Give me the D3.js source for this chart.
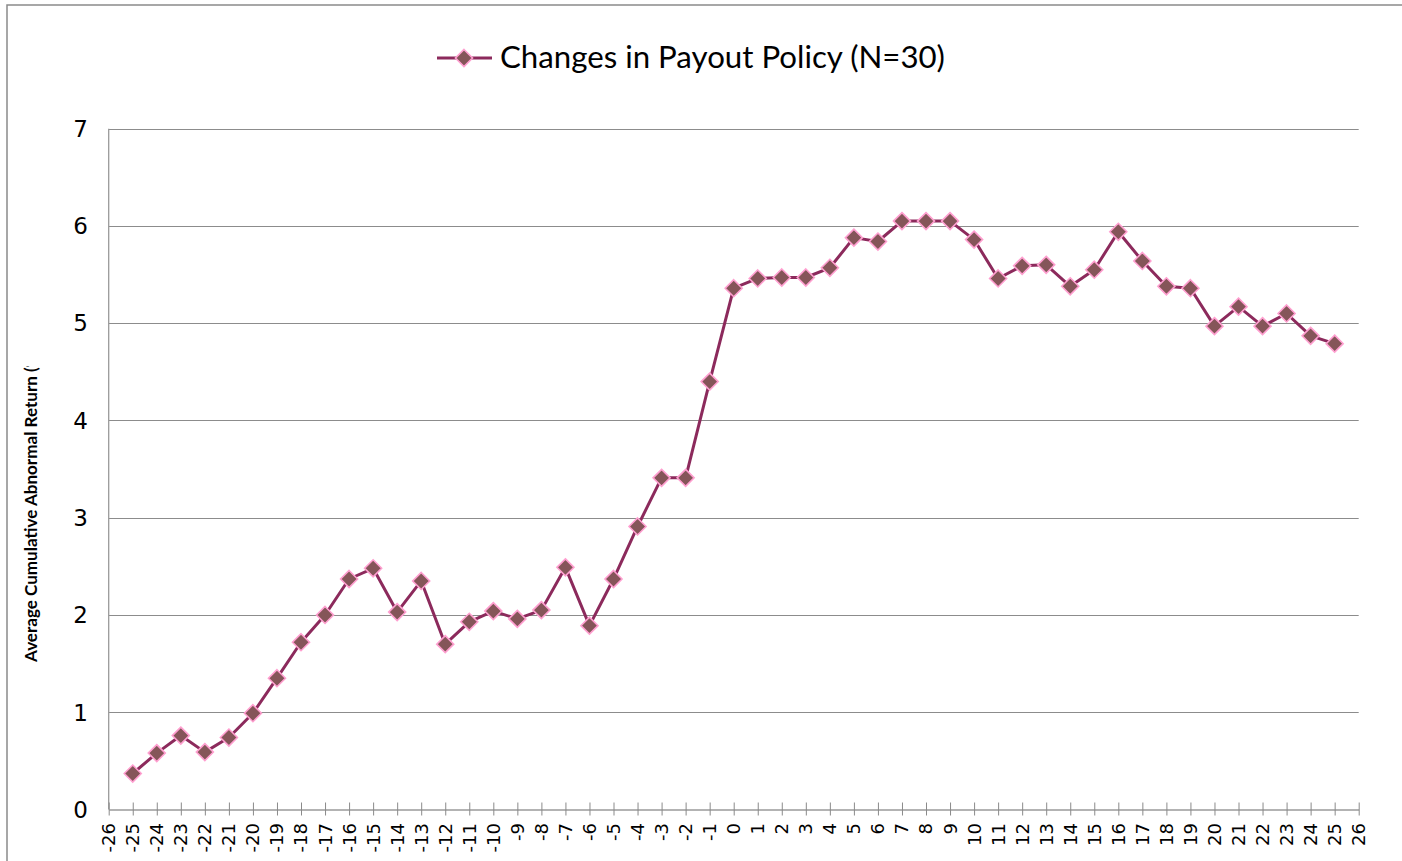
<!DOCTYPE html>
<html>
<head>
<meta charset="utf-8">
<script src="https://cdn.jsdelivr.net/npm/d3@7"></script>
<style>
  html, body { margin: 0; padding: 0; background: #fff; }
  svg { display: block; }
</style>
</head>
<body>
<svg id="chart" width="1402" height="861"></svg>
<script>
// event days -25..25 and the average CAR (%) for each
const days = [-25,-24,-23,-22,-21,-20,-19,-18,-17,-16,-15,-14,-13,-12,-11,-10,-9,-8,-7,-6,-5,-4,-3,-2,-1,
  0,1,2,3,4,5,6,7,8,9,10,11,12,13,14,15,16,17,18,19,20,21,22,23,24,25];
const car = [0.37,0.58,0.76,0.59,0.74,0.99,1.35,1.72,2.00,2.37,2.48,2.03,2.35,1.70,1.93,2.04,1.96,2.05,2.49,1.89,2.37,2.91,3.41,3.41,4.40,
  5.36,5.46,5.47,5.47,5.57,5.88,5.84,6.05,6.05,6.05,5.86,5.46,5.59,5.60,5.38,5.55,5.94,5.64,5.38,5.36,4.97,5.17,4.97,5.10,4.87,4.79];
const xTicks = d3.range(-26, 27);
const yTicks = [0,1,2,3,4,5,6,7];
const seriesName = 'Changes in Payout Policy (N=30)';
const yTitle = 'Average Cumulative Abnormal Return (%)';

const LINE = '#8c2a5c', MFILL = '#855559', MSTROKE = '#ff9fd0', GRID = '#8c8c8c';

const svg = d3.select('#chart');
const x = d3.scaleLinear().domain([-26, 26]).range([108.7, 1358.7]);
const y = d3.scaleLinear().domain([0, 7]).range([809.5, 128.7]);

// outer chart border (only top and left visible)
svg.append('path').attr('d', 'M7,861V5H1402')
  .attr('fill', 'none').attr('stroke', '#8a8a8a').attr('stroke-width', 1.5);

// gridlines
svg.append('g').selectAll('line').data(yTicks.filter(d => d > 0)).enter().append('line')
  .attr('x1', x(-26)).attr('x2', x(26))
  .attr('y1', d => Math.round(y(d)) + 0.5).attr('y2', d => Math.round(y(d)) + 0.5)
  .attr('stroke', GRID).attr('stroke-width', 1);

// y axis line + labels
svg.append('line').attr('x1', x(-26)).attr('x2', x(-26)).attr('y1', y(7)).attr('y2', y(0))
  .attr('stroke', '#9a9a9a').attr('stroke-width', 1.3);
svg.append('g').selectAll('text').data(yTicks).enter().append('text')
  .attr('x', 88).attr('y', d => y(d)).attr('dy', '0.36em')
  .attr('text-anchor', 'end').attr('font-family', 'DejaVu Sans').attr('font-size', 23)
  .attr('fill', '#000').text(d => d);

// x axis
const xAxis = svg.append('g').attr('transform', `translate(0,${y(0)})`)
  .call(d3.axisBottom(x).tickValues(xTicks).tickSize(0).tickFormat(''));
xAxis.select('.domain').attr('stroke', '#9a9a9a').attr('stroke-width', 1.5);
xAxis.selectAll('.tick').append('line').attr('y1', -7).attr('y2', 6)
  .attr('stroke', '#8a8a8a').attr('stroke-width', 1);
xAxis.selectAll('.tick text').remove();
svg.append('g').selectAll('text').data(xTicks).enter().append('text')
  .attr('transform', d => `translate(${x(d)},823) rotate(-90)`)
  .attr('dy', '0.36em').attr('text-anchor', 'end')
  .attr('font-family', 'DejaVu Sans').attr('font-size', 18).attr('fill', '#000')
  .text(d => d);

// y axis title, clipped like the original
svg.append('clipPath').attr('id', 'ytclip').append('rect')
  .attr('x', 0).attr('y', 366).attr('width', 60).attr('height', 400);
const yt = svg.append('g').attr('clip-path', 'url(#ytclip)')
  .append('text')
  .attr('transform', 'translate(37,662) rotate(-90)')
  .attr('font-family', '"Liberation Sans Narrow", Lato').attr('font-weight', 700).attr('font-size', 16)
  .attr('fill', '#000').text(yTitle);
const sub = yt.node().getSubStringLength(0, 36);
if (sub > 0) yt.attr('font-size', 16 * 295 / sub);

// series line and markers
const pts = days.map((d, i) => [d, car[i]]);
svg.append('path').datum(pts)
  .attr('d', d3.line().x(d => x(d[0])).y(d => y(d[1])))
  .attr('fill', 'none').attr('stroke', LINE).attr('stroke-width', 3).attr('stroke-linejoin', 'round');

const diamond = 'M0,-8.5L8.5,0L0,8.5L-8.5,0Z';
svg.append('g').selectAll('path').data(pts).enter().append('path')
  .attr('transform', d => `translate(${x(d[0])},${y(d[1])})`)
  .attr('d', diamond).attr('fill', MFILL).attr('stroke', MSTROKE).attr('stroke-width', 1.6);

// legend
const lg = svg.append('g').attr('transform', 'translate(437,58)');
lg.append('line').attr('x1', 0).attr('x2', 55).attr('stroke', LINE).attr('stroke-width', 3);
lg.append('path').attr('transform', 'translate(27,0)').attr('d', diamond)
  .attr('fill', MFILL).attr('stroke', MSTROKE).attr('stroke-width', 1.6);
const lt = lg.append('text').attr('x', 63).attr('y', 10)
  .attr('font-family', 'Lato').attr('font-size', 28).attr('fill', '#000').text(seriesName);
const w = lt.node().getComputedTextLength();
if (w > 0) lt.attr('font-size', 28 * 445 / w);
</script>
</body>
</html>
